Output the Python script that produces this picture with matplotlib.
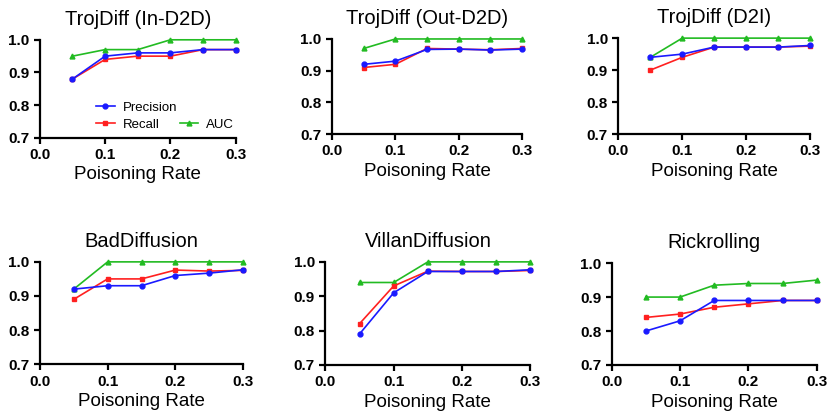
import matplotlib.pyplot as plt
from matplotlib.lines import Line2D

plt.rcParams['font.family'] = ['Liberation Sans', 'DejaVu Sans']

rates = [0.05, 0.10, 0.15, 0.20, 0.25, 0.30]

titles = ["TrojDiff (In-D2D)", "TrojDiff (Out-D2D)", "TrojDiff (D2I)",
          "BadDiffusion", "VillanDiffusion", "Rickrolling"]

precision = [
    [0.88, 0.95, 0.96, 0.96, 0.97, 0.97],
    [0.92, 0.93, 0.967, 0.968, 0.965, 0.968],
    [0.94, 0.95, 0.972, 0.972, 0.972, 0.977],
    [0.92, 0.93, 0.93, 0.96, 0.967, 0.977],
    [0.79, 0.91, 0.972, 0.972, 0.972, 0.977],
    [0.80, 0.83, 0.89, 0.89, 0.89, 0.89],
]
recall = [
    [0.88, 0.94, 0.95, 0.95, 0.97, 0.97],
    [0.91, 0.92, 0.97, 0.968, 0.966, 0.97],
    [0.90, 0.94, 0.972, 0.972, 0.972, 0.975],
    [0.89, 0.95, 0.95, 0.976, 0.973, 0.975],
    [0.82, 0.93, 0.973, 0.972, 0.972, 0.975],
    [0.84, 0.85, 0.87, 0.88, 0.89, 0.89],
]
auc = [
    [0.95, 0.97, 0.97, 1.0, 1.0, 1.0],
    [0.97, 1.0, 1.0, 1.0, 1.0, 1.0],
    [0.94, 1.0, 1.0, 1.0, 1.0, 1.0],
    [0.92, 1.0, 1.0, 1.0, 1.0, 1.0],
    [0.94, 0.94, 1.0, 1.0, 1.0, 1.0],
    [0.90, 0.90, 0.935, 0.94, 0.94, 0.95],
]

xticks = [0.0, 0.1, 0.2, 0.3]
yticks = [0.7, 0.8, 0.9, 1.0]

# axes boxes [left, bottom, width, height] in figure fractions
boxes = [
    [0.048, 0.671, 0.236, 0.234],
    [0.400, 0.680, 0.229, 0.227],
    [0.745, 0.680, 0.231, 0.229],
    [0.048, 0.131, 0.245, 0.244],
    [0.392, 0.129, 0.247, 0.246],
    [0.737, 0.129, 0.247, 0.243],
]

fig = plt.figure(figsize=(8.3, 4.19), dpi=100)

for i in range(6):
    ax = fig.add_axes(boxes[i])
    l_auc, = ax.plot(rates, auc[i], color='#22bb22', marker='^', markersize=3.5,
                     lw=1.2, label='AUC', clip_on=False, zorder=3)
    l_rec, = ax.plot(rates, recall[i], color='#ff2020', marker='s', markersize=3.5,
                     lw=1.2, label='Recall', clip_on=False, zorder=4)
    l_pre, = ax.plot(rates, precision[i], color='#1a1aff', marker='o', markersize=3.5,
                     lw=1.2, label='Precision', clip_on=False, zorder=5)

    ax.set_xlim(0, 0.3)
    ax.set_ylim(0.7, 1.0)
    ax.set_xticks(xticks)
    ax.set_xticklabels(["%.1f" % t for t in xticks])
    ax.set_yticks(yticks)
    ax.set_yticklabels(["%.1f" % t for t in yticks])
    ax.spines['top'].set_visible(False)
    ax.spines['right'].set_visible(False)
    ax.spines['left'].set_linewidth(1.6)
    ax.spines['bottom'].set_linewidth(1.6)
    ax.tick_params(direction='out', length=4, width=1.6, labelsize=11)
    for lab in ax.get_xticklabels() + ax.get_yticklabels():
        lab.set_fontweight('bold')
    ax.set_title(titles[i], fontsize=14.5, pad=11)
    ax.set_xlabel("Poisoning Rate", fontsize=13.5, labelpad=3)

    if i == 0:
        blank = Line2D([], [], color='none')
        ax.legend([l_pre, l_rec, blank, l_auc], ['Precision', 'Recall', '', 'AUC'],
                  ncol=2, loc='lower left', bbox_to_anchor=(0.24, -0.02),
                  frameon=False, fontsize=9.5, handlelength=1.4,
                  handletextpad=0.6, columnspacing=0.2, labelspacing=0.35,
                  borderpad=0.2)

fig.savefig("out.png", dpi=100)
